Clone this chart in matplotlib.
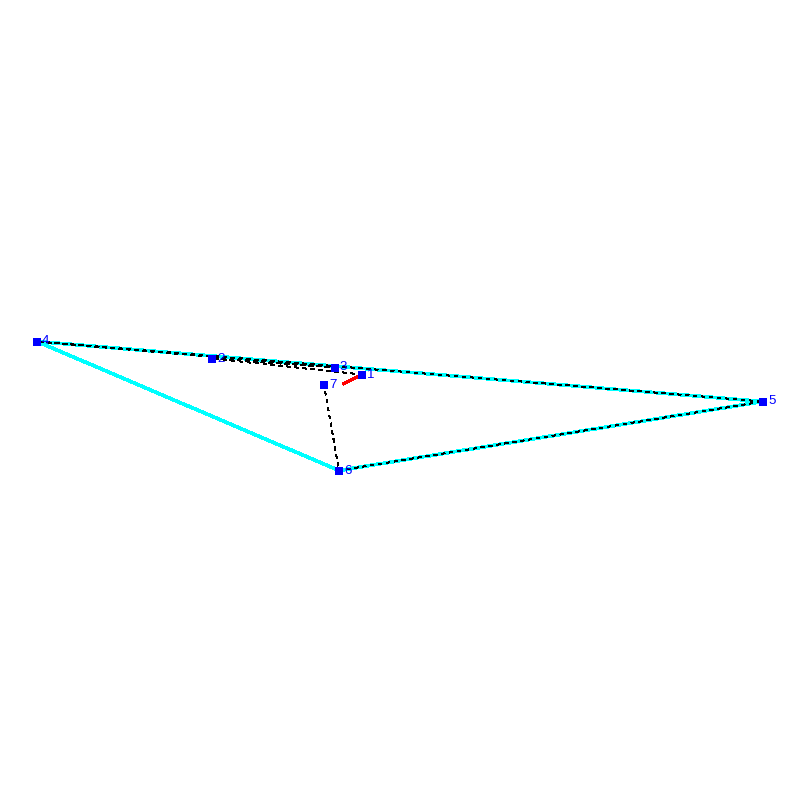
import matplotlib
matplotlib.use("Agg")
import matplotlib.pyplot as plt

# Node positions
node_labels = ["1", "2", "3", "4", "5", "6", "7"]
node_x = [362, 212, 335, 37, 763, 339, 324]
node_y = [374, 358, 367, 341, 401, 470, 384]

# Closed cyan route, dashed black route (node indices)
cyan_route = [3, 4, 5, 3]
dashed_route = [0, 1, 2, 3, 4, 5, 6]

# Red segment
red_x = [362, 344]
red_y = [374, 383]

fig = plt.figure(figsize=(8, 8), dpi=100, facecolor="white")
ax = fig.add_axes([0, 0, 1, 1])
ax.set_xlim(0, 800)
ax.set_ylim(799.5, -0.5)
ax.axis("off")

ax.plot([node_x[i] for i in cyan_route], [node_y[i] for i in cyan_route],
        color="#00ffff", lw=1.9, antialiased=False, zorder=1, solid_joinstyle="miter")
ax.plot([node_x[i] for i in dashed_route], [node_y[i] for i in dashed_route],
        color="black", lw=0.6, dashes=(3.6, 6), antialiased=False, zorder=2)
ax.plot(red_x, red_y, color="#ff0000", lw=1.9, antialiased=False, zorder=3)
ax.plot(node_x, node_y, ls="none", marker="s", ms=5.6, color="#0000ff",
        mec="#0000ff", mew=0, antialiased=False, zorder=4)

for x, y, s in zip(node_x, node_y, node_labels):
    ax.annotate(s, (x, y), xytext=(5, 0), textcoords="offset pixels",
                color="#0000ff", fontsize=9.6, family="Liberation Sans",
                ha="left", va="center", zorder=5)

fig.savefig("out.png", dpi=100)
